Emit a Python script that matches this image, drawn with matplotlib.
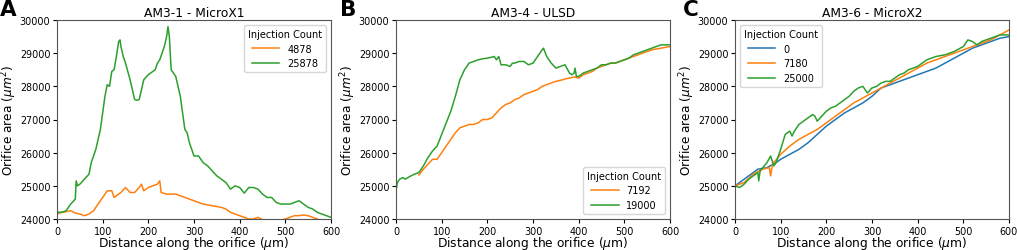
import matplotlib
matplotlib.use("Agg")
import matplotlib.pyplot as plt

# Panel A: AM3-1 - MicroX1
a_x_4878 = [0, 10, 20, 30, 40, 50, 60, 70, 80, 90, 100, 110, 120, 125, 130, 140, 150, 160, 170, 180,
            185, 190, 200, 210, 220, 225, 228, 240, 260, 280, 290, 300, 320, 340, 360, 370, 380, 390,
            400, 410, 420, 430, 440, 450, 470, 490, 500, 510, 520, 530, 540, 550, 560, 570, 580, 600]
a_y_4878 = [24150, 24200, 24220, 24250, 24180, 24150, 24100, 24150, 24250, 24450, 24650, 24850, 24850,
            24650, 24700, 24800, 24950, 24800, 24800, 24950, 25050, 24850, 24950, 25000, 25050, 25150,
            24800, 24750, 24750, 24650, 24600, 24550, 24450, 24400, 24350, 24300, 24200, 24150, 24100,
            24050, 24000, 24000, 24050, 23980, 23950, 23970, 24000, 24050, 24100, 24100, 24120, 24100,
            24050, 24000, 23950, 23900]
a_x_25878 = [0, 10, 20, 30, 40, 42, 45, 50, 60, 70, 75, 85, 95, 100, 105, 110, 115, 120, 125, 130, 135,
             138, 140, 145, 150, 160, 170, 175, 180, 185, 190, 200, 210, 215, 220, 225, 230, 235, 240,
             243, 246, 250, 255, 260, 265, 270, 275, 280, 285, 290, 300, 310, 320, 330, 340, 350, 360,
             370, 380, 390, 400, 410, 420, 430, 440, 450, 460, 470, 480, 490, 500, 510, 520, 530, 540,
             550, 560, 570, 580, 590, 600]
a_y_25878 = [24210, 24200, 24250, 24450, 24600, 25150, 25000, 25050, 25200, 25350, 25700, 26100, 26700,
             27200, 27700, 28050, 28000, 28450, 28500, 28900, 29350, 29400, 29200, 28900, 28700, 28200,
             27600, 27580, 27600, 27900, 28200, 28350, 28450, 28500, 28700, 28800, 29000, 29200, 29500,
             29800, 29500, 28500, 28400, 28300, 28000, 27700, 27200, 26700, 26600, 26300, 25900, 25900,
             25700, 25600, 25450, 25300, 25200, 25100, 24900, 25000, 24950, 24780, 24950, 24950, 24900,
             24750, 24650, 24650, 24500, 24450, 24450, 24450, 24500, 24550, 24450, 24350, 24300, 24200,
             24150, 24100, 24050]

# Panel B: AM3-4 - ULSD
b_x_7192 = [50, 60, 70, 80, 90, 100, 110, 120, 130, 140, 150, 160, 170, 180, 190, 200, 210, 220, 230,
            240, 250, 260, 270, 280, 290, 300, 310, 320, 330, 340, 350, 360, 370, 380, 390, 400, 410,
            420, 430, 440, 450, 460, 470, 480, 490, 500, 520, 540, 560, 580, 600]
b_y_7192 = [25330, 25500, 25650, 25800, 25800, 26000, 26200, 26400, 26600, 26750, 26800, 26850, 26850,
            26900, 27000, 27000, 27050, 27200, 27350, 27450, 27500, 27600, 27650, 27750, 27800, 27850,
            27900, 28000, 28050, 28100, 28150, 28180, 28220, 28250, 28280, 28250, 28350, 28400, 28450,
            28550, 28600, 28650, 28700, 28700, 28750, 28800, 28900, 29000, 29100, 29150, 29200]
b_x_19000 = [0, 3, 8, 15, 20, 30, 40, 50, 60, 70, 80, 90, 100, 110, 120, 130, 140, 150, 160, 170, 180,
             190, 200, 210, 215, 220, 225, 230, 240, 250, 255, 260, 270, 280, 290, 300, 310, 320, 323,
             330, 340, 350, 360, 370, 380, 385, 390, 392, 395, 400, 410, 420, 430, 440, 450, 460, 470,
             480, 490, 500, 510, 520, 530, 540, 550, 560, 570, 580, 590, 600]
b_y_19000 = [24850, 25100, 25200, 25250, 25200, 25280, 25350, 25400, 25600, 25850, 26050, 26200, 26550,
             26900, 27250, 27700, 28200, 28500, 28700, 28750, 28800, 28830, 28850, 28880, 28900, 28800,
             28900, 28650, 28650, 28600, 28700, 28700, 28750, 28750, 28650, 28700, 28900, 29100, 29150,
             28900, 28700, 28550, 28600, 28650, 28400, 28350, 28400, 28550, 28300, 28300, 28400, 28450,
             28500, 28550, 28650, 28650, 28700, 28700, 28750, 28800, 28850, 28950, 29000, 29050, 29100,
             29150, 29200, 29250, 29250, 29250]

# Panel C: AM3-6 - MicroX2
c_x_0 = [0, 30, 50, 70, 90, 100, 120, 140, 160, 180, 200, 220, 240, 260, 280, 300, 320, 340, 360, 380,
         400, 420, 440, 460, 480, 500, 520, 540, 560, 580, 600]
c_y_0 = [25000, 25300, 25500, 25550, 25700, 25800, 25950, 26100, 26300, 26550, 26800, 27000, 27200,
         27350, 27500, 27700, 27950, 28050, 28150, 28250, 28350, 28450, 28550, 28700, 28850, 29000,
         29150, 29250, 29350, 29450, 29500]
c_x_7180 = [0, 20, 40, 60, 75, 78, 82, 100, 120, 140, 160, 180, 200, 220, 240, 260, 280, 300, 320, 340,
            360, 380, 400, 420, 440, 460, 480, 500, 520, 540, 560, 580, 600]
c_y_7180 = [25000, 25100, 25350, 25500, 25550, 25300, 25650, 25950, 26200, 26400, 26550, 26700, 26900,
            27100, 27300, 27500, 27650, 27800, 27950, 28100, 28250, 28400, 28550, 28700, 28800, 28900,
            29000, 29100, 29200, 29300, 29400, 29550, 29700]
c_x_25000 = [0, 10, 20, 30, 40, 50, 52, 55, 70, 78, 85, 90, 100, 110, 120, 125, 130, 140, 150, 160, 170,
             175, 180, 190, 200, 210, 220, 230, 240, 250, 260, 270, 280, 290, 300, 310, 320, 330, 340,
             350, 360, 370, 380, 390, 400, 410, 420, 430, 440, 460, 480, 500, 510, 520, 530, 540, 560,
             580, 600]
c_y_25000 = [25000, 24950, 25050, 25200, 25300, 25400, 25150, 25450, 25700, 25900, 25600, 25700, 26100,
             26550, 26650, 26500, 26650, 26850, 26950, 27050, 27150, 27100, 26950, 27100, 27250, 27350,
             27400, 27500, 27600, 27700, 27850, 27950, 28000, 27800, 27950, 28000, 28100, 28150, 28150,
             28250, 28350, 28400, 28500, 28550, 28600, 28700, 28800, 28850, 28900, 28950, 29050, 29200,
             29400, 29350, 29250, 29350, 29450, 29550, 29550]

blue, orange, green = "#1f77b4", "#ff7f0e", "#2ca02c"

panels = [
    ("A", "AM3-1 - MicroX1", [(a_x_4878, a_y_4878, "4878", orange),
                              (a_x_25878, a_y_25878, "25878", green)], "upper right"),
    ("B", "AM3-4 - ULSD", [(b_x_7192, b_y_7192, "7192", orange),
                           (b_x_19000, b_y_19000, "19000", green)], "lower right"),
    ("C", "AM3-6 - MicroX2", [(c_x_0, c_y_0, "0", blue),
                              (c_x_7180, c_y_7180, "7180", orange),
                              (c_x_25000, c_y_25000, "25000", green)], "upper left"),
]

fig = plt.figure(figsize=(10.17, 2.51), dpi=100)
lefts = [57, 396, 735]
letter_x = [0, 340, 683]
for (letter, title, series, loc), left, lx in zip(panels, lefts, letter_x):
    ax = fig.add_axes([left / 1017, 1 - 220 / 251, 274 / 1017, 199 / 251])
    for x, y, lab, col in series:
        ax.plot(x, y, color=col, lw=1.1, label=lab)
    ax.set_xlim(0, 600)
    ax.set_ylim(24000, 30000)
    ax.set_xticks(range(0, 601, 100))
    ax.set_yticks(range(24000, 30001, 1000))
    ax.tick_params(labelsize=6.9, length=3, pad=1.8)
    ax.set_title(title, fontsize=8.8, pad=3)
    ax.set_xlabel(r"Distance along the orifice ($\mu$m)", fontsize=8.8)
    ax.set_ylabel(r"Orifice area ($\mu m^2$)", fontsize=8.7)
    ax.xaxis.set_label_coords(0.5, -0.075)
    ax.yaxis.set_label_coords(-0.137, 0.5)
    for s in ax.spines.values():
        s.set_color("#555555")
    ax.legend(title="Injection Count", loc=loc, fontsize=7, title_fontsize=7,
              handlelength=2.8)
    fig.text(lx / 1017, 1, letter, fontsize=15.5, fontweight="bold", va="top")

fig.savefig("out.png", dpi=100)
